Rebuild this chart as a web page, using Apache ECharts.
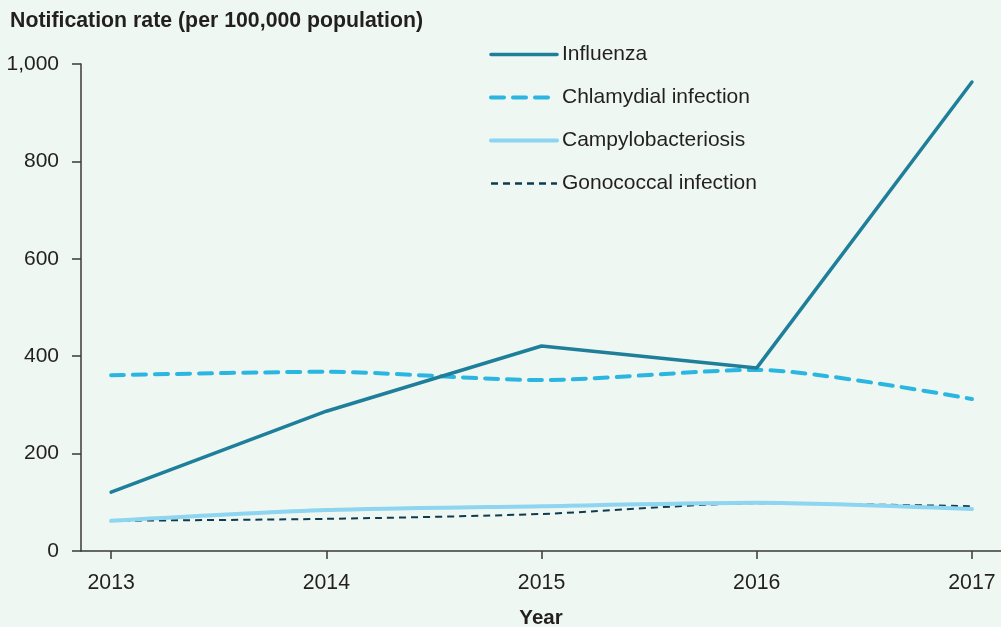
<!DOCTYPE html>
<html>
<head>
<meta charset="utf-8">
<script src="https://cdn.jsdelivr.net/npm/echarts@6/dist/echarts.min.js"></script>
<style>
  html, body { margin: 0; padding: 0; background: #eef7f2; }
  #chart { width: 1001px; height: 627px; }
</style>
</head>
<body>
<div id="chart"></div>
<script>
// years on the x axis
const years = [2013, 2014, 2015, 2016, 2017];
// notification rate per 100,000 population
const influenza = [121, 287, 421, 376, 963];
const chlamydial = [361, 368, 351, 372, 312];
const campylo = [62, 84, 92, 99, 86];
const gonococcal = [62, 66, 76, 98, 92];
const yTicks = [0, 200, 400, 600, 800, 1000];

const toPairs = (vals) => years.map((y, i) => [y, vals[i]]);
const font = 'Liberation Sans, Arial, sans-serif';
const textColor = '#231f20';

const myChart = echarts.init(document.getElementById('chart'));
const option = {
  backgroundColor: '#eef7f2',
  textStyle: { fontFamily: font },
  title: {
    text: 'Notification rate (per 100,000 population)',
    left: 10,
    top: 11,
    padding: 0,
    textStyle: { fontFamily: font, fontSize: 21.3, fontWeight: 'bold', color: textColor }
  },
  legend: {
    orient: 'vertical',
    left: 484,
    top: 39,
    itemWidth: 66,
    itemHeight: 16,
    itemGap: 22,
    itemStyle: { opacity: 0 },
    textStyle: { fontFamily: font, fontSize: 21, color: textColor, padding: [0, 0, 0, 0] },
    data: [
      { name: 'Influenza', lineStyle: { width: 3.5 } },
      { name: 'Chlamydial infection', lineStyle: { width: 4 } },
      { name: 'Campylobacteriosis', lineStyle: { width: 4 } },
      { name: 'Gonococcal infection', lineStyle: { width: 2.5 } }
    ]
  },
  grid: { left: 81, right: 0, top: 64, bottom: 76, containLabel: false, outerBoundsMode: 'none' },
  xAxis: {
    type: 'value',
    min: 2012.86,
    max: 2017.135,
    name: 'Year',
    nameLocation: 'middle',
    nameGap: 57,
    nameTextStyle: { fontFamily: font, fontSize: 20.5, fontWeight: 'bold', color: textColor },
    axisLine: { lineStyle: { color: '#3a3a3a', width: 1.5 } },
    axisTick: { show: true, length: 8, customValues: years, lineStyle: { color: '#3a3a3a', width: 1.5 } },
    axisLabel: {
      customValues: years,
      margin: 22,
      fontSize: 21.3,
      color: textColor,
      formatter: (v) => String(v)
    },
    splitLine: { show: false }
  },
  yAxis: {
    type: 'value',
    min: 0,
    max: 1000,
    interval: 200,
    axisLine: { show: true, lineStyle: { color: '#3a3a3a', width: 1.5 } },
    axisTick: { show: true, length: 9, lineStyle: { color: '#3a3a3a', width: 1.5 } },
    axisLabel: {
      margin: 22,
      fontSize: 21,
      color: textColor,
      formatter: (v) => v.toLocaleString('en-US')
    },
    splitLine: { show: false }
  },
  series: [
    {
      name: 'Influenza',
      type: 'line',
      data: toPairs(influenza),
      symbol: 'none',
      smooth: false,
      z: 4,
      lineStyle: { color: '#1f7f9b', width: 3.5, cap: 'round', join: 'round' },
      itemStyle: { color: '#1f7f9b' }
    },
    {
      name: 'Chlamydial infection',
      type: 'line',
      data: toPairs(chlamydial),
      symbol: 'none',
      smooth: 0.25,
      z: 3,
      lineStyle: { color: '#2ab6e1', width: 4, type: [13, 9], cap: 'round' },
      itemStyle: { color: '#2ab6e1' }
    },
    {
      name: 'Campylobacteriosis',
      type: 'line',
      data: toPairs(campylo),
      symbol: 'none',
      smooth: 0.25,
      z: 2,
      lineStyle: { color: '#8dd5f1', width: 4, cap: 'round' },
      itemStyle: { color: '#8dd5f1' }
    },
    {
      name: 'Gonococcal infection',
      type: 'line',
      data: toPairs(gonococcal),
      symbol: 'none',
      smooth: 0.25,
      z: 1,
      lineStyle: { color: '#0f3b50', width: 2, type: [7, 5] },
      itemStyle: { color: '#0f3b50' }
    }
  ]
};

myChart.setOption(option);
window.addEventListener('resize', () => {
  myChart.resize();
});
</script>
</body>
</html>
